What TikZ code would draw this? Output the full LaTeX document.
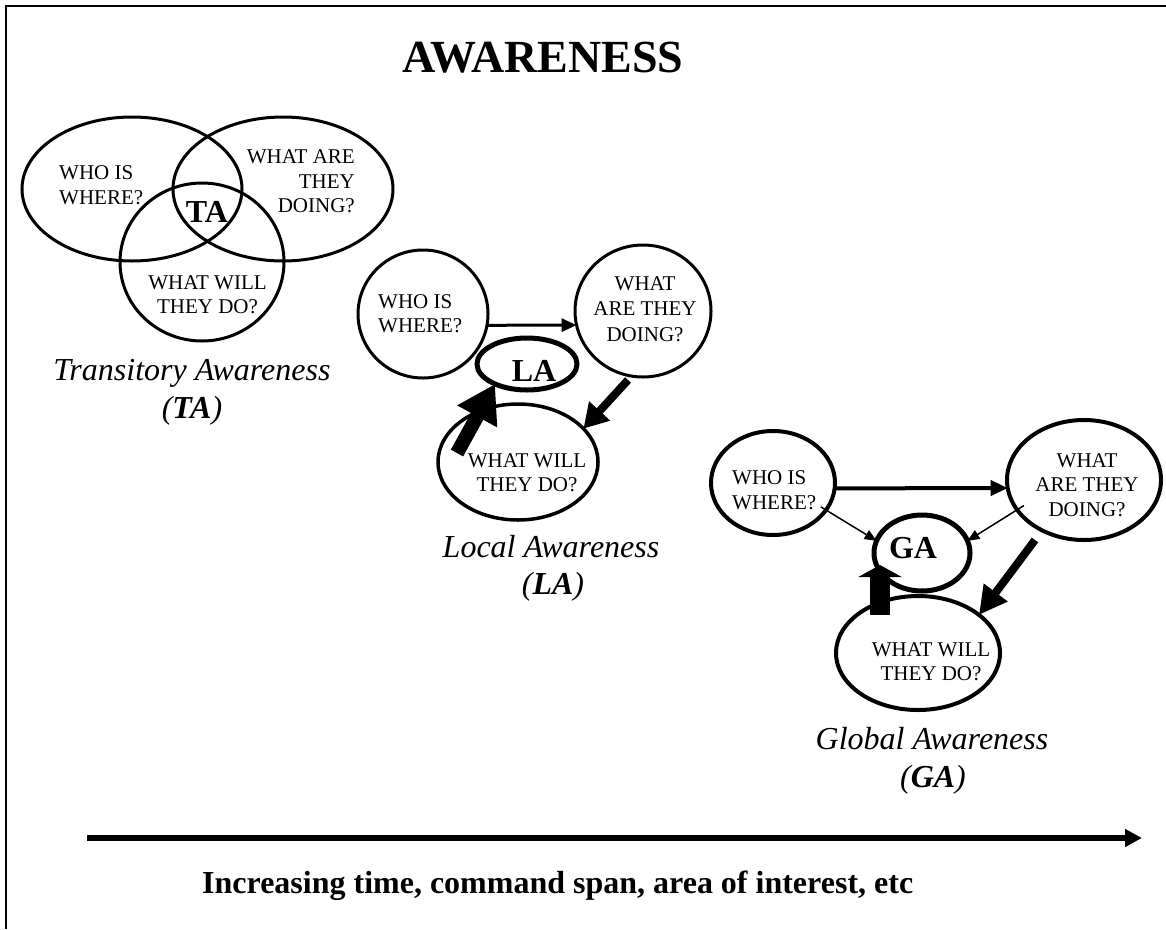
\documentclass[tikz,border=0pt]{standalone}
\usepackage{fontspec}
\setmainfont{Liberation Serif}
\usetikzlibrary{shapes.geometric,arrows.meta}
\begin{document}
\begin{tikzpicture}[x=1pt,y=-1pt,
  ring/.style={ellipse, draw, inner sep=0pt, outer sep=0pt},
  small/.style={font=\fontsize{21}{24.5}\selectfont, inner sep=0pt},
  smallb/.style={font=\fontsize{21}{25.5}\selectfont, inner sep=0pt},
  big/.style={font=\fontsize{32}{38}\selectfont\bfseries, inner sep=0pt},
  lab/.style={font=\fontsize{32}{38}\selectfont\itshape, inner sep=0pt, anchor=base},
  thin/.style={line width=1.5pt, -{Triangle[length=12pt,width=10pt]}},
  mid/.style={line width=#1, -{Triangle[length=15pt,width=13pt]}},
  ]
\useasboundingbox (0,0) rectangle (1166,929);
\draw[line width=2pt] (6,929) -- (6,5.5) -- (1166,5.5);

\node[font=\fontsize{46}{52}\selectfont\bfseries, anchor=base west, inner sep=0pt] (title) at (402,72) {AWARENESS};

% ---------- Transitory awareness ----------
\node[ring, line width=3pt, minimum width=220pt, minimum height=144pt] (tawho) at (132,189) {};
\node[ring, line width=3pt, minimum width=220pt, minimum height=144pt] (tadoing) at (283,189) {};
\node[ring, line width=3pt, minimum width=164pt, minimum height=158pt] (tawill) at (202,262) {};
\node[small, align=left, anchor=west] (tawhot) at (59,185) {WHO IS\\WHERE?};
\node[small, align=right, anchor=east] (tadoingt) at (355,181.5) {WHAT ARE\\THEY\\DOING?};
\node[small, align=center] (tawillt) at (207.5,294.5) {WHAT WILL\\THEY DO?};
\node[big] (tat) at (207,212) {TA};
\node[lab] (talab) at (192,380) {Transitory Awareness};
\node[lab] (taabbr) at (192,418) {(\textbf{TA})};

% ---------- Local awareness ----------
\node[ring, line width=3pt, minimum width=130pt, minimum height=128pt] (lawho) at (423,314) {};
\node[ring, line width=3pt, minimum width=136pt, minimum height=132pt] (ladoing) at (643,311) {};
\node[ring, line width=5pt, minimum width=100pt, minimum height=52pt] (lala) at (527,364) {};
\node[ring, line width=3.5pt, minimum width=160pt, minimum height=116pt] (lawill) at (518,462) {};
\node[small, align=left, anchor=west] (lawhot) at (378,313.5) {WHO IS\\WHERE?};
\node[smallb, align=center] (ladoingt) at (645,309) {WHAT\\ARE THEY\\DOING?};
\node[small, align=center] (lawillt) at (527,472.5) {WHAT WILL\\THEY DO?};
\node[big] (lat) at (534,371) {LA};
\node[lab] (lalab) at (551,557) {Local Awareness};
\node[lab] (laabbr) at (553,594) {(\textbf{LA})};

\coordinate (ladown) at (628,380);
\coordinate (laup) at (457,453);
\draw[mid=3pt] (lawho.-10) -- (ladoing.192);
\draw[line width=8pt, -{Triangle[length=24pt,width=27pt]}] (ladown) -- (lawill.27);
\draw[line width=14pt, -{Triangle[length=37pt,width=43pt]}] (laup) -- (lala.-148);

% ---------- Global awareness ----------
\node[ring, line width=4pt, minimum width=124pt, minimum height=104pt] (gawho) at (773,483) {};
\node[ring, line width=4pt, minimum width=154pt, minimum height=120pt] (gadoing) at (1084,480) {};
\node[ring, line width=5pt, minimum width=96pt, minimum height=76pt] (gaga) at (922,553) {};
\node[ring, line width=4pt, minimum width=164pt, minimum height=114pt] (gawill) at (918,653) {};
\node[small, align=left, anchor=west] (gawhot) at (732,490) {WHO IS\\WHERE?};
\node[small, align=center] (gadoingt) at (1087,485) {WHAT\\ARE THEY\\DOING?};
\node[small, align=center] (gawillt) at (931,661.5) {WHAT WILL\\THEY DO?};
\node[big] (gat) at (913,548) {GA};
\node[lab] (galab) at (932,749) {Global Awareness};
\node[lab] (gaabbr) at (933,787) {(\textbf{GA})};

\coordinate (gadown) at (1035,540);
\coordinate (gaup) at (880,615);
\coordinate (gatip) at (880,565);
\draw[line width=4pt, -{Triangle[length=17pt,width=15pt]}] (gawho.-5) -- (gadoing.186);
\draw[thin, shorten <=-6pt] (gawho.-27) -- (gaga.165);
\draw[thin, shorten <=-8pt] (gadoing.-156) -- (gaga.15);
\draw[line width=8pt, -{Triangle[length=28pt,width=28pt]}] (gadown) -- (gawill.32);
\draw[line width=20pt, -{Triangle[length=12pt,width=43pt]}] (gaup) -- (gatip);

% ---------- bottom axis ----------
\coordinate (axs) at (87,838);
\coordinate (axe) at (1142,838);
\draw[line width=6pt, -{Triangle[length=17pt,width=17pt]}] (axs) -- (axe);
\node[font=\fontsize{32}{38}\selectfont\bfseries, anchor=base west, inner sep=0pt] (axlab) at (202,893) {Increasing time, command span, area of interest, etc};
\end{tikzpicture}
\end{document}
